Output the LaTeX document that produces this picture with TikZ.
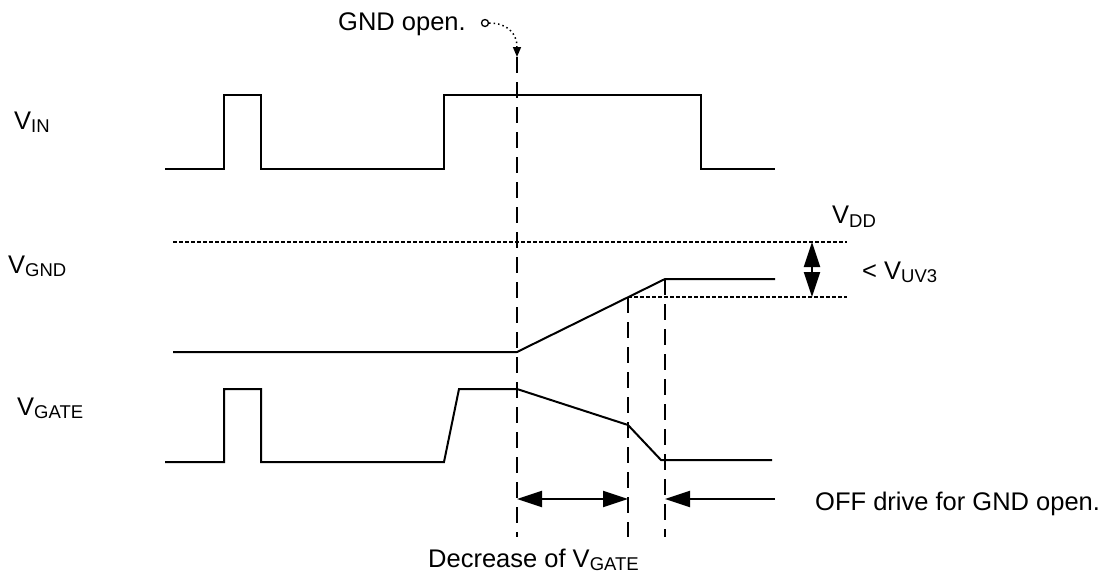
\documentclass[tikz,border=0pt]{standalone}
\usepackage{fontspec}
\setmainfont{Liberation Sans}
\usetikzlibrary{arrows.meta}
\newcommand{\Vsub}[1]{V\raisebox{-3.5pt}{\fontsize{18.5}{20}\selectfont #1}}
\begin{document}
\begin{tikzpicture}[x=1pt,y=-1pt,
  wave/.style={line width=2pt, line join=miter},
  vdash/.style={line width=2pt, dash pattern=on 16pt off 9pt},
  vdot/.style={line width=1.6pt, dash pattern=on 3.5pt off 2.5pt},
  bigtip/.style={line width=2pt},
  lbl/.style={anchor=base west, inner sep=0pt, font=\fontsize{25.5}{30}\selectfont}]
\useasboundingbox (0,0) rectangle (1109,576);

% labels
\node[lbl] (lin)   at (14,129)  {\Vsub{IN}};
\node[lbl] (lgnd)  at (8,273)   {\Vsub{GND}};
\node[lbl] (lgate) at (17,415)  {\Vsub{GATE}};
\node[lbl] (ldd)   at (832,223.5) {\Vsub{DD}};
\node[lbl] (luv)   at (862,279) {< \Vsub{UV3}};
\node[lbl] (lopen) at (338,30.5) {GND open.};
\node[lbl] (loff)  at (815,510) {OFF drive for GND open.};
\node[lbl] (ldec)  at (428,567) {Decrease of \Vsub{GATE}};

% VIN waveform
\draw[wave] (165,169) -- (224,169) -- (224,95) -- (261,95) -- (261,169)
  -- (444,169) -- (444,95) -- (701,95) -- (701,169) -- (775,169);

% VGND waveform
\draw[wave] (173,352) -- (517,352) -- (665,279) -- (775,279);

% VGATE waveform
\draw[wave] (165,462) -- (224,462) -- (224,389) -- (261,389) -- (261,462)
  -- (444,462) -- (459,389) -- (517,389) -- (628,425) -- (661,460) -- (772,460);

% dotted levels
\draw[vdot] (173,242) -- (847,242);
\draw[vdot] (628,297) -- (847,297);

% GND open marker
\node[circle, draw, line width=1.3pt, minimum size=7pt, inner sep=0pt] (circ) at (485,23) {};
\coordinate (t0) at (517,57);
\draw[line width=1.5pt, dash pattern=on 1.5pt off 3pt, -{Triangle[length=10pt,width=8pt]}]
  (circ.east) .. controls (506,23) and (517,32) .. (t0);

% vertical dashed lines
\coordinate (b0) at (517,537);
\coordinate (t1) at (628,297);
\coordinate (b1) at (628,537);
\coordinate (t2) at (665,279);
\coordinate (b2) at (665,537);
\draw[vdash] (t0) -- (b0);
\draw[vdash] (t1) -- (b1);
\draw[vdash] (t2) -- (b2);

% VDD - VUV3 dimension arrow
\coordinate (d1) at (812,242);
\coordinate (d2) at (812,297);
\draw[bigtip, {Triangle[length=25pt,width=16pt]}-{Triangle[length=25pt,width=16pt]}] (d1) -- (d2);

% bottom arrows
\coordinate (a1) at (517,499);
\coordinate (a2) at (628,499);
\coordinate (a3) at (665,499);
\coordinate (a4) at (775,499);
\draw[bigtip, {Triangle[length=25pt,width=16pt]}-{Triangle[length=25pt,width=16pt]}] (a1) -- (a2);
\draw[bigtip, -{Triangle[length=25pt,width=16pt]}] (a4) -- (a3);
\end{tikzpicture}
\end{document}
